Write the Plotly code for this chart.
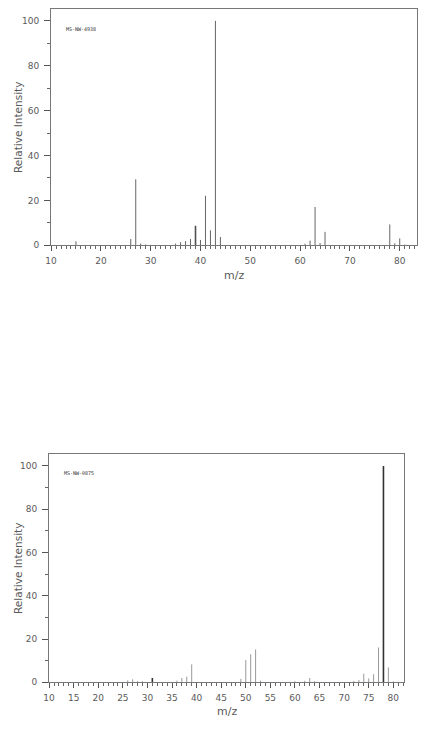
import plotly.graph_objects as go

# ---- data: spectrum A (MS-NW-4938)
mz_a = [15, 26, 27, 28, 29, 35, 36, 37, 38, 39, 40, 41, 42, 43, 44, 61, 62, 63, 64, 65, 78, 79, 80, 81]
int_a = [1.8, 2.8, 29.4, 0.8, 0.4, 0.8, 1.4, 1.9, 2.8, 8.7, 2.4, 22.1, 6.7, 100, 3.7, 0.7, 2.1, 17.1, 1.0, 6.0, 9.3, 0.9, 3.1, 0.3]
bold_a = [39]
label_a = "MS-NW-4938"

# ---- data: spectrum B (MS-NW-0875)
mz_b = [26, 27, 28, 29, 31, 36, 37, 38, 39, 49, 50, 51, 52, 53, 60, 62, 63, 64, 72, 73, 74, 75, 76, 77, 78, 79, 80]
int_b = [0.9, 1.4, 0.6, 0.5, 2.0, 0.8, 2.0, 2.6, 8.3, 1.6, 10.3, 13.0, 15.2, 0.8, 0.5, 0.7, 2.0, 0.5, 0.6, 1.1, 4.0, 1.8, 3.8, 16.1, 100, 6.9, 0.5]
bold_b = [31, 78]
label_b = "MS-NW-0875"

xticks_a = [10, 20, 30, 40, 50, 60, 70, 80]
xticks_b = [10, 15, 20, 25, 30, 35, 40, 45, 50, 55, 60, 65, 70, 75, 80]
yticks = [0, 20, 40, 60, 80, 100]

W, H = 429, 737
FONT = "DejaVu Sans"
TXT = "#5a5a5a"


def sticks(mz, inten, keep):
    xs, ys = [], []
    for m, v in zip(mz, inten):
        if keep(m):
            xs += [m, m, None]
            ys += [0, v, None]
    return xs, ys


fig = go.Figure()

panels = [
    dict(mz=mz_a, it=int_a, bold=bold_a, lab=label_a, xa="x", ya="y", color="#666666",
         boldcolor="#505050", xr=[10, 83.5], yr=[0, 105.1], ticks=xticks_a,
         px=(45.7, 417), py=(9.5, 247), lab_pos=(59, 29), ytitle=(12, 128), xtitle=(231.5, 277)),
    dict(mz=mz_b, it=int_b, bold=bold_b, lab=label_b, xa="x2", ya="y2", color="#999999",
         boldcolor="#333333", xr=[10, 82.25], yr=[0, 105.4], ticks=xticks_b,
         px=(43.7, 404), py=(457.3, 687), lab_pos=(57, 476), ytitle=(12, 572), xtitle=(224, 716)),
]

for i, p in enumerate(panels):
    bset = set(p["bold"])
    xs, ys = sticks(p["mz"], p["it"], lambda m: m not in bset)
    fig.add_trace(go.Scatter(x=xs, y=ys, mode="lines", xaxis=p["xa"], yaxis=p["ya"],
                             line=dict(color=p["color"], width=1), hoverinfo="skip", showlegend=False))
    xs, ys = sticks(p["mz"], p["it"], lambda m: m in bset)
    fig.add_trace(go.Scatter(x=xs, y=ys, mode="lines", xaxis=p["xa"], yaxis=p["ya"],
                             line=dict(color=p["boldcolor"], width=1.6), hoverinfo="skip", showlegend=False))

    suffix = "" if i == 0 else "2"
    xd = [p["px"][0] / W, p["px"][1] / W]
    yd = [1 - p["py"][1] / H, 1 - p["py"][0] / H]
    fig.update_layout(**{
        "xaxis" + suffix: dict(domain=xd, range=p["xr"], anchor="y" + suffix,
                               tickmode="array", tickvals=p["ticks"], ticks="outside", ticklen=5,
                               tickcolor="#555555", tickwidth=1,
                               minor=dict(dtick=1, tick0=10, ticks="outside", ticklen=3, tickcolor="#666666"),
                               showline=True, linecolor="#777777", linewidth=1, mirror=True,
                               showgrid=False, zeroline=False,
                               tickfont=dict(family=FONT, size=9, color=TXT), ticklabelstandoff=2),
        "yaxis" + suffix: dict(domain=yd, range=p["yr"], anchor="x" + suffix,
                               tickmode="array", tickvals=yticks, ticks="outside", ticklen=6,
                               tickcolor="#555555", tickwidth=1,
                               minor=dict(dtick=10, tick0=0, ticks="outside", ticklen=3, tickcolor="#666666"),
                               showline=True, linecolor="#777777", linewidth=1, mirror=True,
                               showgrid=False, zeroline=False,
                               tickfont=dict(family=FONT, size=9, color=TXT), ticklabelstandoff=3),
    })
    fig.add_annotation(text=p["lab"], xref="paper", yref="paper", x=p["lab_pos"][0] / W,
                       y=1 - p["lab_pos"][1] / H, xanchor="left", yanchor="middle", showarrow=False,
                       font=dict(family="DejaVu Sans Mono", size=5, color="#333333"))
    fig.add_annotation(text="Relative Intensity", xref="paper", yref="paper", x=p["ytitle"][0] / W,
                       y=1 - p["ytitle"][1] / H, xanchor="center", yanchor="middle", textangle=-90,
                       showarrow=False, font=dict(family=FONT, size=10.5, color=TXT))
    fig.add_annotation(text="m/z", xref="paper", yref="paper", x=p["xtitle"][0] / W,
                       y=1 - p["xtitle"][1] / H, xanchor="center", yanchor="middle",
                       showarrow=False, font=dict(family=FONT, size=11, color=TXT))

fig.update_layout(width=W, height=H, margin=dict(l=0, r=0, t=0, b=0),
                  paper_bgcolor="white", plot_bgcolor="white")

fig.write_html("out.html")
